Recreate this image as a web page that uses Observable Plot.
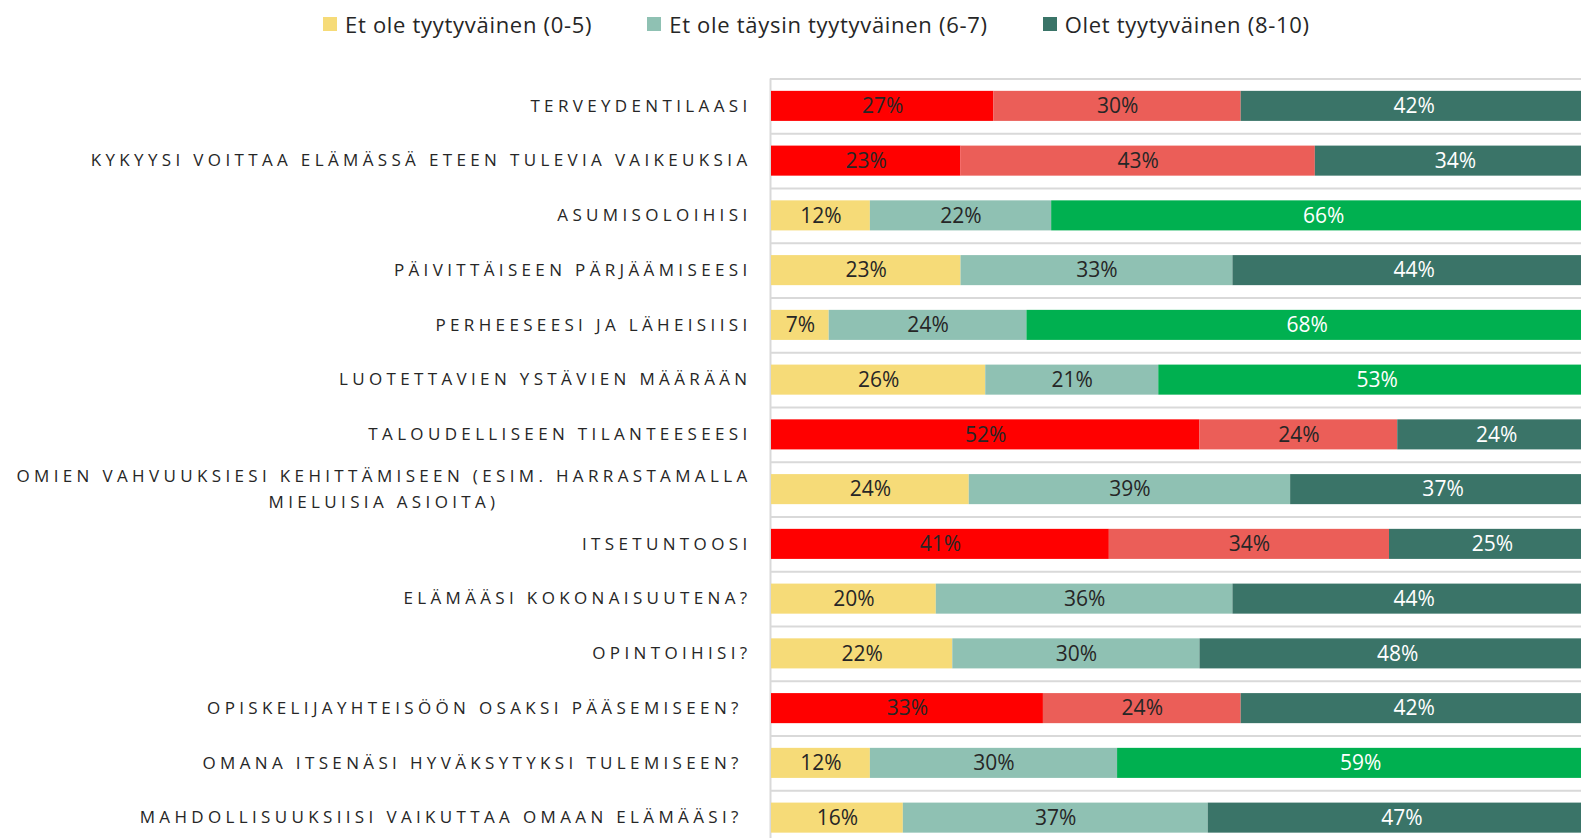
<!DOCTYPE html>
<html>
<head>
<meta charset="utf-8">
<script src="https://cdn.jsdelivr.net/npm/d3@7"></script>
<script src="https://cdn.jsdelivr.net/npm/@observablehq/plot@0.6"></script>
<style>
  html, body { margin: 0; padding: 0; background: #fff; overflow: hidden; }
  #legend { display: flex; align-items: center; height: 50px; padding-left: 323px; padding-bottom: 2px; gap: 55px;
            font-family: "Open Sans", sans-serif; font-size: 22px; letter-spacing: 0.7px; color: #262626; box-sizing: border-box; }
  #legend .item { display: flex; align-items: center; white-space: nowrap; }
  #legend .sw { width: 14px; height: 14px; margin-right: 8px; display: inline-block; }
  #chart svg { display: block; }
</style>
</head>
<body>
<div id="legend"></div>
<div id="chart"></div>
<script>
const categories = [
  "TERVEYDENTILAASI",
  "KYKYYSI VOITTAA ELÄMÄSSÄ ETEEN TULEVIA VAIKEUKSIA",
  "ASUMISOLOIHISI",
  "PÄIVITTÄISEEN PÄRJÄÄMISEESI",
  "PERHEESEESI JA LÄHEISIISI",
  "LUOTETTAVIEN YSTÄVIEN MÄÄRÄÄN",
  "TALOUDELLISEEN TILANTEESEESI",
  "OMIEN VAHVUUKSIESI KEHITTÄMISEEN (ESIM. HARRASTAMALLA\nMIELUISIA ASIOITA)",
  "ITSETUNTOOSI",
  "ELÄMÄÄSI KOKONAISUUTENA?",
  "OPINTOIHISI?",
  "OPISKELIJAYHTEISÖÖN OSAKSI PÄÄSEMISEEN? ",
  "OMANA ITSENÄSI HYVÄKSYTYKSI TULEMISEEN? ",
  "MAHDOLLISUUKSIISI VAIKUTTAA OMAAN ELÄMÄÄSI? "
];
const lowShare  = [27, 23, 12, 23,  7, 26, 52, 24, 41, 20, 22, 33, 12, 16];
const midShare  = [30, 43, 22, 33, 24, 21, 24, 39, 34, 36, 30, 24, 30, 37];
const highShare = [42, 34, 66, 44, 68, 53, 24, 37, 25, 44, 48, 42, 59, 47];
const rowScheme = ["alarm", "alarm", "bright", "base", "bright", "bright", "alarm",
                   "base", "alarm", "base", "base", "alarm", "bright", "base"];
const legendLabels = ["Et ole tyytyväinen (0-5)", "Et ole täysin tyytyväinen (6-7)", "Olet tyytyväinen (8-10)"];

const palettes = {
  base:   ["#F6DB78", "#8FC1B3", "#3A7468"],
  alarm:  ["#FF0000", "#EB5E58", "#3A7468"],
  bright: ["#F6DB78", "#8FC1B3", "#00B050"]
};
const inks = ["#262626", "#262626", "#ffffff"];

// legend
const legend = document.getElementById("legend");
legendLabels.forEach((lab, i) => {
  const it = document.createElement("div");
  it.className = "item";
  it.innerHTML = `<span class="sw" style="background:${palettes.base[i]}"></span><span>${lab}</span>`;
  legend.appendChild(it);
});

// table
const segments = [];
categories.forEach((cat, i) => {
  const vals = [lowShare[i], midShare[i], highShare[i]];
  let acc = 0;
  vals.forEach((v, k) => {
    segments.push({cat, v, x1: acc, x2: acc + v, mid: acc + v / 2,
                   color: palettes[rowScheme[i]][k], ink: inks[k]});
    acc += v;
  });
});

const W = 1581, H = 788;
const yRange = [28.5, 795];
const step = (yRange[1] - yRange[0]) / categories.length;

const chart = Plot.plot({
  width: W, height: H,
  marginLeft: 771, marginRight: 0, marginTop: 28.5, marginBottom: 0,
  style: {fontFamily: "Open Sans, sans-serif", background: "#fff"},
  x: {domain: [0, 100], range: [771, 1595], axis: null},
  y: {domain: categories, range: yRange, paddingInner: 0.451, paddingOuter: 0.2255, round: false, axis: null},
  color: {type: "identity"},
  marks: [
    Plot.ruleY(categories, {y: d => d, dy: -step / 2, x1: 0, x2: 100, stroke: "#d9d9d9", strokeWidth: 2, dx: -1}),
    Plot.ruleX([0], {stroke: "#d9d9d9", strokeWidth: 2, dx: -1}),
    Plot.barX(segments, {x1: "x1", x2: "x2", y: "cat", fill: "color"}),
    Plot.text(segments, {x: "mid", y: "cat", text: d => d.v + "%", fill: "ink", fontSize: 21}),
    Plot.text(categories, {x: () => 0, y: d => d, text: d => d, textAnchor: "end", dx: -20, dy: -3,
                           fontSize: 17, lineHeight: 1.5, fill: "#262626"})
  ]
});
document.getElementById("chart").appendChild(chart);

// category label styling: letter spacing, centered multi-line label
const textGroups = chart.querySelectorAll('g[aria-label="text"]');
const labelGroup = textGroups[textGroups.length - 1];
labelGroup.style.letterSpacing = "4.35px";
labelGroup.style.whiteSpace = "pre";
labelGroup.querySelectorAll("text").forEach(t => {
  const spans = t.querySelectorAll("tspan");
  if (spans.length > 1) {
    const w1 = spans[0].getComputedTextLength();
    t.setAttribute("text-anchor", "middle");
    spans.forEach(s => s.setAttribute("x", -w1 / 2));
  }
});
</script>
</body>
</html>
